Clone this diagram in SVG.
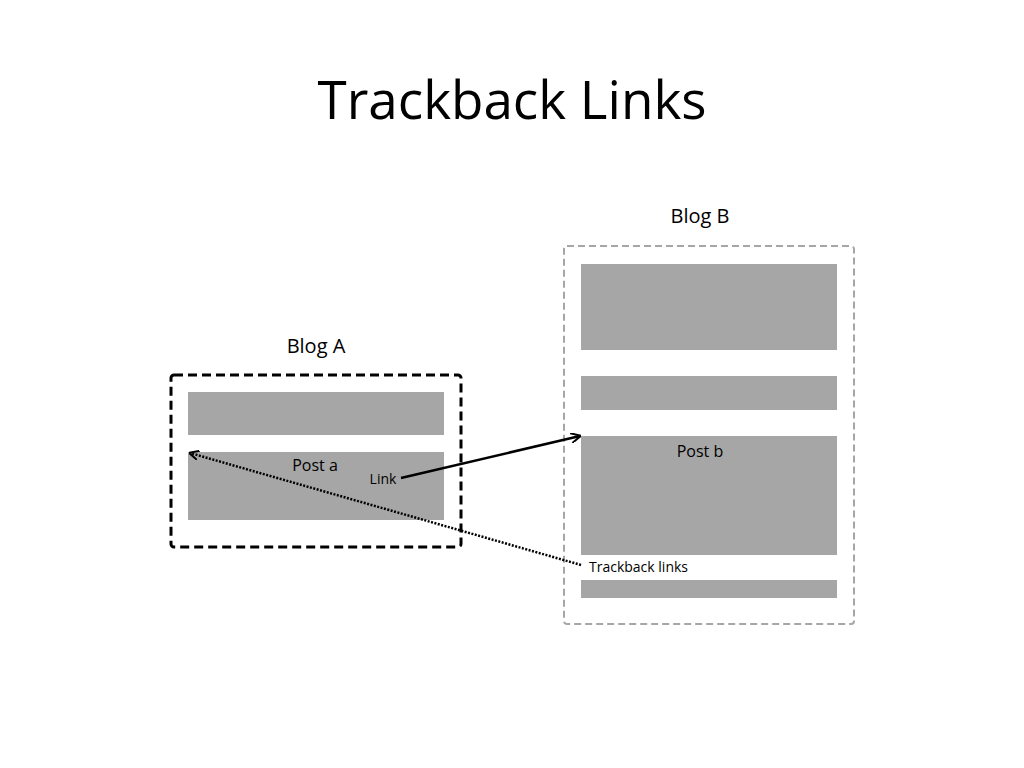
<svg xmlns="http://www.w3.org/2000/svg" width="1024" height="768" viewBox="0 0 1024 768">
<defs>
<marker id="ah" markerWidth="10" markerHeight="10" refX="9" refY="5" orient="auto" markerUnits="userSpaceOnUse"><path d="M0,0 L10,5 L0,10" fill="none" stroke="#000" stroke-width="2"/></marker>
<style>
.t{font-family:"Open Sans","Liberation Sans",sans-serif;fill:#000}
.bar{fill:#a6a6a6}
</style>
</defs>
<rect width="1024" height="768" fill="#fff"/>
<text class="t" x="512" y="119" font-size="53" text-anchor="middle">Trackback Links</text>
<g id="blogA">
<text class="t" x="316" y="353" font-size="20" text-anchor="middle">Blog A</text>
<rect x="171" y="375" width="290" height="172" rx="3" fill="none" stroke="#000" stroke-width="3" stroke-dasharray="9,5"/>
<rect class="bar" x="188" y="392" width="256" height="43"/>
<rect class="bar" x="188" y="452" width="256" height="68"/>
<text class="t" x="315" y="471" font-size="16" text-anchor="middle">Post a</text>
<text class="t" x="383" y="484" font-size="14" text-anchor="middle">Link</text>
</g>
<g id="blogB">
<text class="t" x="700" y="223" font-size="20" text-anchor="middle">Blog B</text>
<rect x="564" y="246" width="290" height="378" rx="3" fill="none" stroke="#a6a6a6" stroke-width="2" stroke-dasharray="7,4"/>
<rect class="bar" x="581" y="264" width="256" height="86"/>
<rect class="bar" x="581" y="376" width="256" height="34"/>
<rect class="bar" x="581" y="436" width="256" height="119"/>
<rect class="bar" x="581" y="580" width="256" height="18"/>
<text class="t" x="700" y="457" font-size="16" text-anchor="middle">Post b</text>
<text class="t" x="589" y="572" font-size="14">Trackback links</text>
</g>
<g id="connectors">
<line x1="401" y1="478" x2="580" y2="436" stroke="#000" stroke-width="2.5" marker-end="url(#ah)"/>
<line x1="581" y1="565" x2="190" y2="453" stroke="#000" stroke-width="2.5" stroke-dasharray="2,1.5" marker-end="url(#ah)"/>
</g>
</svg>
